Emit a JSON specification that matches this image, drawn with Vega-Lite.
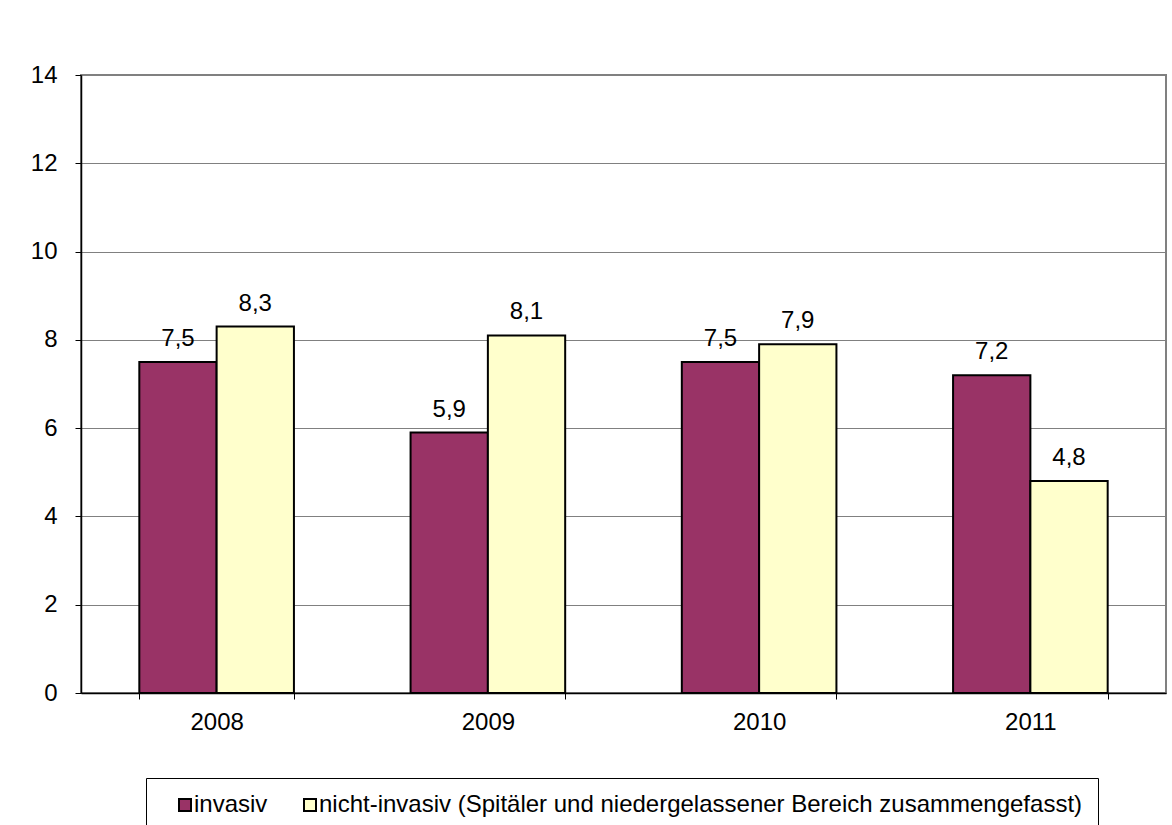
{
  "$schema": "https://vega.github.io/schema/vega-lite/v6.json",
  "width": 1085,
  "height": 618,
  "autosize": {"type": "none"},
  "padding": {"left": 81, "top": 75, "right": 6, "bottom": 132},
  "background": "white",
  "config": {
    "font": "Liberation Sans",
    "view": {"stroke": "#808080", "strokeWidth": 2}
  },
  "data": {
    "values": [
      {"year": "2008", "series": "invasiv", "value": 7.5, "label": "7,5"},
      {"year": "2008", "series": "nicht-invasiv (Spitäler und niedergelassener Bereich zusammengefasst)", "value": 8.3, "label": "8,3"},
      {"year": "2009", "series": "invasiv", "value": 5.9, "label": "5,9"},
      {"year": "2009", "series": "nicht-invasiv (Spitäler und niedergelassener Bereich zusammengefasst)", "value": 8.1, "label": "8,1"},
      {"year": "2010", "series": "invasiv", "value": 7.5, "label": "7,5"},
      {"year": "2010", "series": "nicht-invasiv (Spitäler und niedergelassener Bereich zusammengefasst)", "value": 7.9, "label": "7,9"},
      {"year": "2011", "series": "invasiv", "value": 7.2, "label": "7,2"},
      {"year": "2011", "series": "nicht-invasiv (Spitäler und niedergelassener Bereich zusammengefasst)", "value": 4.8, "label": "4,8"}
    ]
  },
  "encoding": {
    "x": {
      "field": "year", "type": "nominal",
      "scale": {"paddingInner": 0.43, "paddingOuter": 0.215},
      "axis": {
        "title": null, "labelAngle": 0, "labelFontSize": 24, "labelColor": "black",
        "domainColor": "black", "domainWidth": 1.5, "tickColor": "black", "tickSize": 6,
        "tickBand": "extent", "labelPadding": 11
      }
    },
    "xOffset": {"field": "series", "type": "nominal", "sort": ["invasiv"]},
    "y": {
      "field": "value", "type": "quantitative",
      "scale": {"domain": [0, 14], "nice": false},
      "axis": {
        "title": null, "values": [0, 2, 4, 6, 8, 10, 12, 14], "format": "d",
        "labelFontSize": 24, "labelColor": "black", "labelPadding": 18,
        "domainColor": "black", "domainWidth": 1.5, "tickColor": "black", "tickSize": 6,
        "grid": true, "gridColor": "#808080", "gridWidth": 1
      }
    }
  },
  "layer": [
    {
      "mark": {"type": "bar", "stroke": "black", "strokeWidth": 2},
      "encoding": {
        "color": {
          "field": "series", "type": "nominal",
          "scale": {"domain": ["invasiv", "nicht-invasiv (Spitäler und niedergelassener Bereich zusammengefasst)"], "range": ["#993366", "#FFFFCC"]},
          "legend": {
            "title": " ", "titleOrient": "left", "titleFontSize": 2, "titlePadding": 12,
            "orient": "none", "direction": "horizontal",
            "legendX": 65, "legendY": 703,
            "strokeColor": "black", "fillColor": "white",
            "padding": 15, "labelFontSize": 24, "labelColor": "black", "labelLimit": 2000,
            "symbolType": "square", "symbolSize": 144, "symbolStrokeColor": "black", "symbolStrokeWidth": 2,
            "labelOffset": -3, "columnPadding": 30
          }
        }
      }
    },
    {
      "mark": {"type": "text", "baseline": "alphabetic", "dy": -16, "fontSize": 24, "color": "black"},
      "encoding": {
        "text": {"field": "label", "type": "nominal"}
      }
    }
  ]
}
